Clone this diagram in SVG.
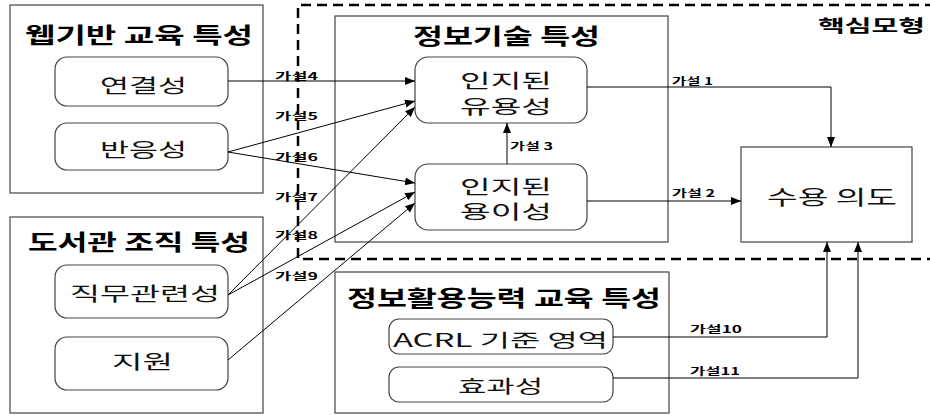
<svg xmlns="http://www.w3.org/2000/svg" width="930" height="415" viewBox="0 0 930 415">
<defs>
<marker id="ah" viewBox="0 0 10 10" refX="10" refY="5" markerWidth="10" markerHeight="10" markerUnits="userSpaceOnUse" orient="auto">
<path d="M0,1 L10,5 L0,9 Z" fill="#000"/>
</marker>
<style>
.grp{fill:#fff;stroke:#444;stroke-width:1.2}
.node{fill:#fff;stroke:#444;stroke-width:1.2}
.title{font-family:"Noto Sans CJK KR","Noto Sans",sans-serif;font-size:22px;font-weight:bold;fill:#000}
.nt{font-family:"Noto Sans CJK KR","Noto Sans",sans-serif;font-size:19px;fill:#111}
.lbl{font-family:"Noto Sans CJK KR","Noto Sans",sans-serif;font-size:10px;font-weight:bold;fill:#000}
.c{fill:none;stroke:#000;stroke-width:1}
.dash{fill:none;stroke:#000;stroke-width:2.5;stroke-dasharray:10 6}
</style>
</defs>
<rect width="930" height="415" fill="#fff"/>

<g id="group-web">
<rect class="grp" x="10" y="5" width="253" height="188"/>
<text class="title" x="25" y="43" textLength="228" lengthAdjust="spacingAndGlyphs">웹기반 교육 특성</text>
</g>
<g id="group-lib">
<rect class="grp" x="10" y="217" width="253" height="196"/>
<text class="title" x="28" y="250" textLength="222" lengthAdjust="spacingAndGlyphs">도서관 조직 특성</text>
</g>
<g id="group-it">
<rect class="grp" x="335" y="16" width="333" height="226"/>
<text class="title" x="413" y="44" textLength="187" lengthAdjust="spacingAndGlyphs">정보기술 특성</text>
</g>
<g id="group-info">
<rect class="grp" x="335" y="272" width="334" height="141"/>
<text class="title" x="347" y="306" textLength="314" lengthAdjust="spacingAndGlyphs">정보활용능력 교육 특성</text>
</g>

<g id="core-model">
<path class="dash" d="M935,5 H298 V259 H935"/>
<text class="title" x="818" y="32" style="font-size:17px" textLength="107" lengthAdjust="spacingAndGlyphs">핵심모형</text>
</g>

<g id="n-connect">
<rect class="node" x="55" y="57" width="173" height="49" rx="12"/>
<text class="nt" x="100" y="93" textLength="87" lengthAdjust="spacingAndGlyphs">연결성</text>
</g>
<g id="n-response">
<rect class="node" x="55" y="123" width="173" height="47" rx="12"/>
<text class="nt" x="100" y="157" textLength="87" lengthAdjust="spacingAndGlyphs">반응성</text>
</g>
<g id="n-job">
<rect class="node" x="55" y="265" width="173" height="53" rx="12"/>
<text class="nt" x="70" y="301" textLength="150" lengthAdjust="spacingAndGlyphs">직무관련성</text>
</g>
<g id="n-support">
<rect class="node" x="55" y="337" width="173" height="53" rx="12"/>
<text class="nt" x="112" y="369" textLength="61" lengthAdjust="spacingAndGlyphs">지원</text>
</g>
<g id="n-useful">
<rect class="node" x="415" y="57" width="172" height="66" rx="13"/>
<text class="nt" x="460" y="88" textLength="92" lengthAdjust="spacingAndGlyphs">인지된</text>
<text class="nt" x="460" y="114" textLength="92" lengthAdjust="spacingAndGlyphs">유용성</text>
</g>
<g id="n-ease">
<rect class="node" x="415" y="164" width="172" height="66" rx="13"/>
<text class="nt" x="460" y="194" textLength="92" lengthAdjust="spacingAndGlyphs">인지된</text>
<text class="nt" x="460" y="219" textLength="92" lengthAdjust="spacingAndGlyphs">용이성</text>
</g>
<g id="n-intent">
<rect class="grp" x="741" y="147" width="171" height="95"/>
<text class="nt" x="767" y="205" style="font-size:20px" textLength="130" lengthAdjust="spacingAndGlyphs">수용 의도</text>
</g>
<g id="n-acrl">
<rect class="node" x="389" y="319" width="224" height="35" rx="10"/>
<text class="nt" x="393" y="347" style="font-size:18px" textLength="215" lengthAdjust="spacingAndGlyphs">ACRL 기준 영역</text>
</g>
<g id="n-effect">
<rect class="node" x="389" y="367" width="224" height="35" rx="10"/>
<text class="nt" x="458" y="393" style="font-size:18px" textLength="85" lengthAdjust="spacingAndGlyphs">효과성</text>
</g>

<g id="connectors">
<path class="c" d="M228,81 H415" marker-end="url(#ah)"/>
<path class="c" d="M228,152 L415,101" marker-end="url(#ah)"/>
<path class="c" d="M228,152 L415,183" marker-end="url(#ah)"/>
<path class="c" d="M228,295 L415,107" marker-end="url(#ah)"/>
<path class="c" d="M228,295 L415,192" marker-end="url(#ah)"/>
<path class="c" d="M228,360 L415,203" marker-end="url(#ah)"/>
<path class="c" d="M507,164 V123" marker-end="url(#ah)"/>
<path class="c" d="M587,87 H831 V147" marker-end="url(#ah)"/>
<path class="c" d="M587,201 H741" marker-end="url(#ah)"/>
<path class="c" d="M613,337 H827 V242" marker-end="url(#ah)"/>
<path class="c" d="M613,378 H858 V242" marker-end="url(#ah)"/>
<text class="lbl" x="275" y="80" textLength="43" lengthAdjust="spacingAndGlyphs">가설4</text>
<text class="lbl" x="275" y="120" textLength="43" lengthAdjust="spacingAndGlyphs">가설5</text>
<text class="lbl" x="275" y="161" textLength="43" lengthAdjust="spacingAndGlyphs">가설6</text>
<text class="lbl" x="275" y="201" textLength="43" lengthAdjust="spacingAndGlyphs">가설7</text>
<text class="lbl" x="275" y="239" textLength="43" lengthAdjust="spacingAndGlyphs">가설8</text>
<text class="lbl" x="275" y="280" textLength="43" lengthAdjust="spacingAndGlyphs">가설9</text>
<text class="lbl" x="510" y="150" textLength="43" lengthAdjust="spacingAndGlyphs">가설 3</text>
<text class="lbl" x="672" y="85" textLength="41" lengthAdjust="spacingAndGlyphs">가설 1</text>
<text class="lbl" x="672" y="197" textLength="43" lengthAdjust="spacingAndGlyphs">가설 2</text>
<text class="lbl" x="690" y="333" textLength="52" lengthAdjust="spacingAndGlyphs">가설10</text>
<text class="lbl" x="690" y="375" textLength="50" lengthAdjust="spacingAndGlyphs">가설11</text>
</g>
</svg>
